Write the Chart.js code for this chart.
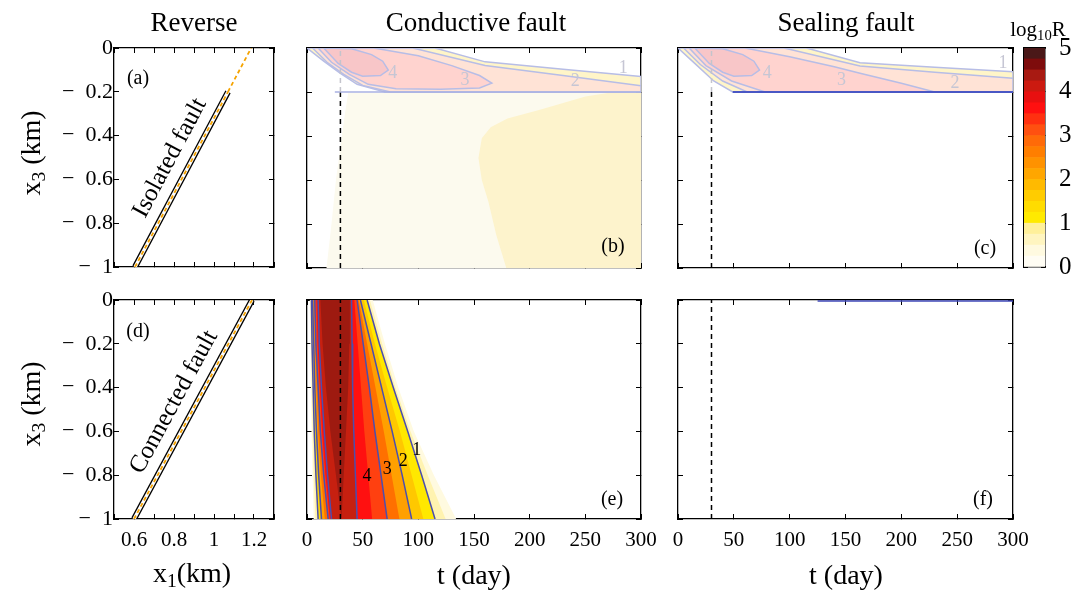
<!DOCTYPE html>
<html>
<head>
<meta charset="utf-8">
<script src="https://cdn.jsdelivr.net/npm/chart.js@4.4.0/dist/chart.umd.min.js"></script>
<style>
  body { margin: 0; background: #fff; }
  #wrap { position: relative; width: 1084px; height: 594px; overflow: hidden; font-family: "Liberation Serif", "Times New Roman", serif; }
  canvas { position: absolute; left: 0; top: 0; }
  .t { position: absolute; white-space: nowrap; color: #000; transform: translate(-50%, -50%); line-height: 1; }
  .title { font-size: 27px; }
  .lab { font-size: 28px; }
  .let { font-size: 20px; }
  .rot { transform: translate(-50%, -50%) rotate(-90deg); }
  sub { font-size: 70%; vertical-align: -0.25em; }
</style>
</head>
<body>
<div id="wrap">
  <canvas id="ca" width="1084" height="594"></canvas>
  <canvas id="cb" width="1084" height="594"></canvas>
  <canvas id="cc" width="1084" height="594"></canvas>
  <canvas id="cd" width="1084" height="594"></canvas>
  <canvas id="ce" width="1084" height="594"></canvas>
  <canvas id="cf" width="1084" height="594"></canvas>
  <canvas id="cbar" width="1084" height="594"></canvas>

  <div class="t title" style="left:194px;top:22px">Reverse</div>
  <div class="t title" style="left:476px;top:22px">Conductive fault</div>
  <div class="t title" style="left:846px;top:22px">Sealing fault</div>

  <div class="t lab rot" style="left:33px;top:153px">x<sub>3</sub> (km)</div>
  <div class="t lab rot" style="left:33px;top:404px">x<sub>3</sub> (km)</div>
  <div class="t lab" style="left:192px;top:575px">x<sub>1</sub>(km)</div>
  <div class="t lab" style="left:474px;top:575px">t (day)</div>
  <div class="t lab" style="left:846px;top:575px">t (day)</div>
  <div class="t" style="left:1038px;top:31px;font-size:21px">log<sub>10</sub>R</div>

  <div class="t let" style="left:138px;top:77px">(a)</div>
  <div class="t let" style="left:613px;top:245px">(b)</div>
  <div class="t let" style="left:985px;top:247px">(c)</div>
  <div class="t let" style="left:138px;top:330px">(d)</div>
  <div class="t let" style="left:612px;top:498px">(e)</div>
  <div class="t let" style="left:983px;top:498px">(f)</div>
</div>

<script>
// ---- data ----
// fault traces, x1 (km) / x3 (km)
const isoX1 = [0.605, 1.07];
const isoX3 = [-1, -0.2];
const isoExtX1 = [1.07, 1.186];
const isoExtX3 = [-0.2, 0];
const conX1 = [0.6, 1.19];
const conX3 = [-1, 0];

const tStop = 30; // day, dashed line

// (e) filled contours of log10 R, left/right edges (day) at each depth
const depthE = [0, -0.2, -0.4, -0.6, -0.8, -1];
const levelsE = [0.1, 0.5, 1, 1.5, 2, 2.5, 3, 3.5, 4, 4.5];
const leftE = [
  [2.5, 3, 3.5, 4, 5, 6],
  [3, 3.5, 4.2, 5, 6, 7.5],
  [4, 4.5, 5.5, 6.5, 8, 10],
  [4.5, 5.2, 6.2, 7.5, 9, 11.5],
  [5, 6, 7, 8.5, 10.5, 13],
  [6, 7, 8.5, 10, 12.5, 16],
  [7, 8, 10, 12, 15, 19],
  [8.5, 9.5, 11.5, 13.5, 16.5, 20.5],
  [10, 11, 13, 15.5, 18.5, 22],
  [12, 14, 17, 21, 26, 31]
];
const rightE = [
  [59, 70, 82, 96, 114, 134],
  [56.5, 67.5, 79.5, 93, 108.5, 124.5],
  [54, 65, 77.5, 90.5, 103, 115],
  [51, 61, 72, 83.5, 94, 104.5],
  [48, 57.5, 67, 76.5, 85.5, 94],
  [46.5, 54, 61.5, 69, 76, 83],
  [45, 50.5, 56, 61, 66.5, 72],
  [42.5, 45.5, 48.5, 51.5, 55, 58.5],
  [40, 40.5, 41, 42, 43.5, 45],
  [38.5, 38, 37, 35, 33, 31]
];
const fillE = ['#fffae0', '#fff3b0', '#ffe800', '#ffc800', '#ffa000', '#ff7000', '#ff4010', '#ff1010', '#c62010', '#9e1a10'];
const labelsE = [
  { x: 98.5, y: -0.685, text: '1' },
  { x: 86.5, y: -0.738, text: '2' },
  { x: 72, y: -0.773, text: '3' },
  { x: 54, y: -0.807, text: '4' }
];

// (b) faded band above the fault tip: regions log10R >= 1,2,3,4 as [t, x3]
const bandB = [
  [[0, 0], [115, 0], [160, -0.063], [230, -0.097], [300, -0.13], [300, -0.2], [70, -0.2], [45, -0.165], [30, -0.115], [15, -0.06]],
  [[5, 0], [95, 0], [160, -0.08], [230, -0.125], [300, -0.172], [300, -0.2], [75, -0.2], [50, -0.17], [33, -0.12], [18, -0.065]],
  [[10, 0], [60, 0], [100, -0.035], [130, -0.08], [155, -0.125], [166, -0.16], [155, -0.182], [120, -0.188], [80, -0.185], [55, -0.165], [38, -0.12], [22, -0.065]],
  [[15, 0], [40, -0.003], [58, -0.03], [68, -0.06], [73, -0.1], [66, -0.125], [50, -0.128], [40, -0.11], [28, -0.07]]
];
// (b) pale regions below the tip
const lowB = [
  [[37, -0.205], [34, -0.3], [30, -0.45], [26, -0.6], [22, -0.8], [17.5, -1], [300, -1], [300, -0.205]],
  [[270, -0.205], [250, -0.22], [210, -0.28], [180, -0.32], [165, -0.36], [157, -0.41], [154, -0.5], [157, -0.6], [163, -0.7], [170, -0.85], [179, -1], [300, -1], [300, -0.205]]
];
const labelsB = [
  { x: 77, y: -0.115, text: '4' },
  { x: 142, y: -0.145, text: '3' },
  { x: 241, y: -0.153, text: '2' },
  { x: 284, y: -0.092, text: '1' }
];

// (c) same band for the sealing fault
const bandC = [
  [[0, 0], [115, 0], [163, -0.067], [230, -0.088], [300, -0.108], [300, -0.2], [49, -0.2], [32, -0.15], [15, -0.07]],
  [[5, 0], [95, 0], [163, -0.082], [230, -0.11], [300, -0.138], [300, -0.2], [62, -0.2], [40, -0.15], [20, -0.075]],
  [[10, 0], [60, 0], [100, -0.04], [140, -0.085], [163, -0.115], [200, -0.16], [230, -0.2], [78, -0.2], [48, -0.15], [25, -0.08]],
  [[15, 0], [40, -0.003], [58, -0.03], [68, -0.06], [73, -0.1], [66, -0.125], [50, -0.128], [40, -0.11], [28, -0.07]]
];
const labelsC = [
  { x: 80, y: -0.115, text: '4' },
  { x: 146.5, y: -0.145, text: '3' },
  { x: 248, y: -0.16, text: '2' },
  { x: 291, y: -0.07, text: '1' }
];
const tipLineC = [49, 300];   // solid contour along x3 = -0.2
const surfLineF = [125, 300]; // contour along the surface in (f)

// colour bar
const cbarEdges = [0, 0.25, 0.5, 0.75, 1, 1.25, 1.5, 1.75, 2, 2.25, 2.5, 2.75, 3, 3.25, 3.5, 3.75, 4, 4.25, 4.5, 4.75, 5];
const cbarColors = ['#fffdf4', '#fffae0', '#fff5c0', '#fff09a', '#ffea00', '#ffdc00', '#ffcc00', '#ffba00', '#ffa600', '#ff9200',
  '#ff7e00', '#ff6a08', '#ff5010', '#ff3010', '#ff1010', '#e81010', '#cc1a10', '#a81a12', '#7e0c0c', '#4a1818'];

const bandFill = ['#fff5c8', '#ffe3d6', '#ffd3cf', '#f8c6c8'];
const fadeBlue = '#b7bde6';
const blue = '#4b4fae';

// ---- helpers ----
const serif = '"Liberation Serif", "Times New Roman", serif';
Chart.defaults.font.family = serif;
Chart.defaults.color = '#000';

const pts = (xs, ys) => xs.map((x, i) => ({ x, y: ys[i] }));

function poly(p, fillColor, lineColor) {
  const data = p.map(q => ({ x: q[0], y: q[1] }));
  data.push({ x: p[0][0], y: p[0][1] });
  return {
    data, showLine: true, fill: 'shape', backgroundColor: fillColor,
    borderColor: lineColor || 'rgba(0,0,0,0)', borderWidth: lineColor ? 1.5 : 0, pointRadius: 0
  };
}
function line(data, color, width, dash) {
  return { data, showLine: true, fill: false, borderColor: color, borderWidth: width, borderDash: dash || [], pointRadius: 0, borderCapStyle: 'butt' };
}

function notes(items) {
  return {
    id: 'notes',
    afterDatasetsDraw(chart) {
      const ctx = chart.ctx, xs = chart.scales.x, ys = chart.scales.y;
      items.forEach(n => {
        ctx.save();
        ctx.translate(xs.getPixelForValue(n.x), ys.getPixelForValue(n.y));
        if (n.rot) ctx.rotate(n.rot * Math.PI / 180);
        ctx.font = (n.size || 18) + 'px ' + serif;
        ctx.fillStyle = n.color || '#000';
        ctx.textAlign = 'center';
        ctx.textBaseline = 'middle';
        ctx.fillText(n.text, 0, 0);
        ctx.restore();
      });
    }
  };
}

const sized = v => s => { if (s.isHorizontal()) s.height = v; else s.width = v; };
const fmtDepth = v => { const r = Math.round(v * 10) / 10; return r === 0 ? '0' : '\u2212\u2002' + Math.abs(r); };
const fmtX1 = v => { const r = Math.round(v * 10); return [6, 8, 10, 12].includes(r) ? String(r / 10) : ''; };

function ax(pos, min, max, step, show, fmt, pad, size, fsize) {
  return {
    type: 'linear', position: pos, min, max, z: 1, afterFit: sized(size || 0),
    ticks: { display: show, stepSize: step, autoSkip: false, maxRotation: 0, padding: pad || 0,
      font: { size: fsize || 21, family: serif }, color: '#000', callback: fmt },
    grid: { display: true, drawOnChartArea: false, drawTicks: true, tickLength: -5, color: '#000', lineWidth: 1 },
    border: { display: true, color: '#000', width: 1.3 }
  };
}

const LEFT_W = 90, BOT_H = 40;

function panel(id, rect, xr, xShow, yShow, datasets, items) {
  const [L, T, R, B] = rect;
  const lw = yShow ? LEFT_W : 0, bh = xShow ? BOT_H : 0;
  datasets.forEach((d, i) => { d.order = datasets.length - i; });
  new Chart(document.getElementById(id), {
    type: 'scatter',
    data: { datasets },
    options: {
      responsive: false, animation: false, devicePixelRatio: 1,
      layout: { padding: { left: L - lw, top: T, right: 1084 - R, bottom: 594 - B - bh } },
      plugins: { legend: { display: false }, tooltip: { enabled: false } },
      elements: { line: { tension: 0 }, point: { radius: 0 } },
      scales: {
        x: ax('bottom', xr[0], xr[1], xr[2], xShow, xr[3], 14, bh, 21),
        x2: ax('top', xr[0], xr[1], xr[2], false),
        y: ax('left', -1, 0, 0.2, yShow, fmtDepth, 6, lw, 22),
        y2: ax('right', -1, 0, 0.2, false)
      }
    },
    plugins: [notes(items || [])]
  });
}

function faultSet(x1, x3) {
  return [
    line(pts(x1, x3), '#000', 6),
    line(pts(x1, x3), '#fff', 3.4),
    line(pts(x1, x3), '#f5a300', 1.8, [4, 3])
  ];
}

const xrF = [0.5, 1.3, 0.1, fmtX1];
const xrT = [0, 300, 50, v => String(v)];

// (a) isolated fault
panel('ca', [114, 48, 274, 267], xrF, false, true,
  faultSet(isoX1, isoX3).concat([line(pts(isoExtX1, isoExtX3), '#f5a300', 1.8, [4, 3])]),
  [{ x: 0.78, y: -0.502, text: 'Isolated fault', rot: -62, size: 25 }]);

// (d) connected fault
panel('cd', [114, 300, 274, 519], xrF, true, true, faultSet(conX1, conX3),
  [{ x: 0.8, y: -0.466, text: 'Connected fault', rot: -61.5, size: 25 }]);

// (b) conductive fault, isolated
const dsB = [];
lowB.forEach((p, i) => dsB.push(poly(p, i === 0 ? '#fcfaee' : '#fdf3cc')));
dsB.push(line(pts([tStop, tStop], [-1, -0.2]), '#000', 1.5, [5, 4]));
bandB.forEach((p, i) => dsB.push(poly(p, bandFill[i], fadeBlue)));
dsB.push(line(pts([25, 300], [-0.2, -0.2]), '#a9b0e2', 1.5));
dsB.push(line(pts([tStop, tStop], [-0.2, 0]), '#c4c4cc', 1.5, [5, 4]));
panel('cb', [307, 48, 641, 268], xrT, false, false, dsB,
  labelsB.map(n => Object.assign({ color: '#c6c6d4' }, n)));

// (c) sealing fault, isolated
const dsC = [];
dsC.push(line(pts([tStop, tStop], [-1, -0.2]), '#000', 1.5, [5, 4]));
bandC.forEach((p, i) => dsC.push(poly(p, bandFill[i], fadeBlue)));
dsC.push(line(pts(tipLineC, [-0.2, -0.2]), '#4a57c4', 1.8));
dsC.push(line(pts([tStop, tStop], [-0.2, 0]), '#c4c4cc', 1.5, [5, 4]));
panel('cc', [678, 48, 1013, 268], xrT, false, false, dsC,
  labelsC.map(n => Object.assign({ color: '#c6c6d4' }, n)));

// (e) conductive fault, connected
const dsE = [];
levelsE.forEach((lv, k) => {
  const left = depthE.map((d, j) => [leftE[k][j], d]);
  const right = depthE.map((d, j) => [rightE[k][j], d]).reverse();
  dsE.push(poly(left.concat(right), fillE[k]));
});
levelsE.forEach((lv, k) => {
  if (Number.isInteger(lv)) {
    dsE.push(line(pts(leftE[k], depthE), blue, 1.5));
    dsE.push(line(pts(rightE[k], depthE), blue, 1.5));
  }
});
dsE.push(line(pts([tStop, tStop], [-1, 0]), '#000', 1.5, [5, 4]));
panel('ce', [307, 300, 641, 519], xrT, true, false, dsE, labelsE);

// (f) sealing fault, connected
panel('cf', [678, 300, 1013, 519], xrT, true, false, [
  line(pts([tStop, tStop], [-1, 0]), '#000', 1.5, [5, 4]),
  line(pts(surfLineF, [-0.004, -0.004]), '#3f48b8', 1.5)
]);

// colour bar
new Chart(document.getElementById('cbar'), {
  type: 'bar',
  data: {
    labels: [''],
    datasets: cbarColors.map((c, i) => ({
      data: [[cbarEdges[i], cbarEdges[i + 1]]], backgroundColor: c, borderWidth: 0,
      grouped: false, barPercentage: 1, categoryPercentage: 1
    }))
  },
  options: {
    responsive: false, animation: false, devicePixelRatio: 1,
    layout: { padding: { left: 1024, top: 48, right: 1084 - 1045 - 39, bottom: 594 - 267 } },
    plugins: { legend: { display: false }, tooltip: { enabled: false } },
    scales: {
      x: { type: 'category', z: 1, afterFit: sized(0), ticks: { display: false }, grid: { display: false },
        border: { display: true, color: '#000', width: 1.5 } },
      x2: { type: 'linear', position: 'top', min: 0, max: 1, z: 1, afterFit: sized(0), ticks: { display: false },
        grid: { display: false }, border: { display: true, color: '#000', width: 1.5 } },
      y: { type: 'linear', position: 'right', min: 0, max: 5, z: 1, afterFit: sized(39),
        ticks: { stepSize: 1, padding: 18, font: { size: 25, family: serif }, color: '#000' },
        grid: { display: true, drawOnChartArea: false, tickLength: -4, color: '#000' },
        border: { display: true, color: '#000', width: 1.5 } },
      y2: { type: 'linear', position: 'left', min: 0, max: 5, z: 1, afterFit: sized(0),
        ticks: { display: false, stepSize: 1 },
        grid: { display: true, drawOnChartArea: false, tickLength: -4, color: '#000' },
        border: { display: true, color: '#000', width: 1.5 } }
    }
  }
});
</script>
</body>
</html>
